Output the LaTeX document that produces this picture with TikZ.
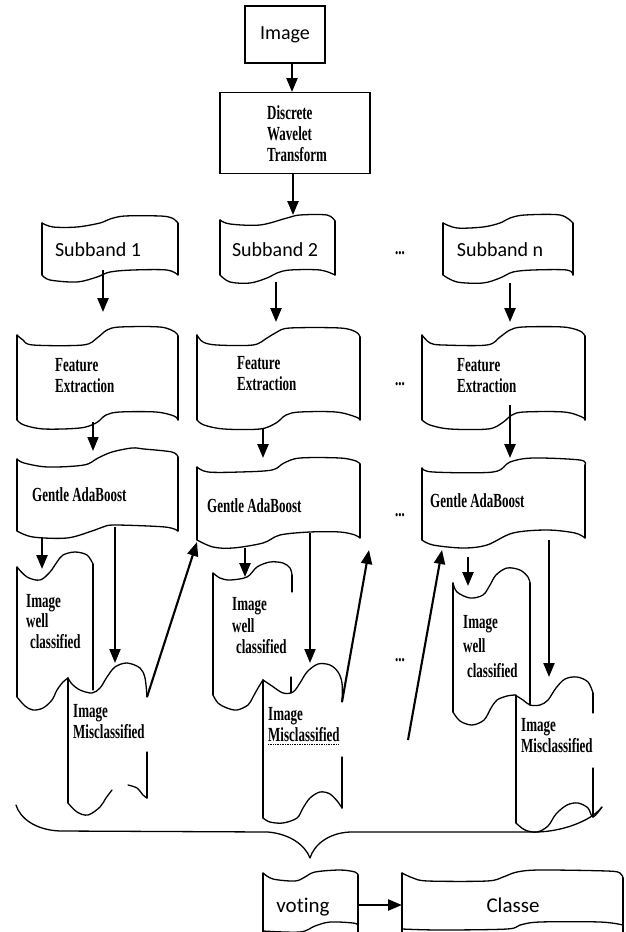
\documentclass[tikz,border=0pt]{standalone}
\usepackage{fontspec}
\usepackage{graphicx}
\newfontfamily\carlito[Ligatures=NoCommon]{Carlito}
\newfontfamily\tnr{Liberation Serif}
\usetikzlibrary{arrows.meta}
\newcommand{\cnd}[2][1]{\scalebox{0.65}[1]{\def\arraystretch{#1}\begin{tabular}{@{}l@{}}#2\end{tabular}}}
\tikzset{
  edge/.style={line width=1.3pt, line join=round, line cap=round},
  arr/.style={line width=2.4pt, -{Triangle[width=11pt,length=14pt]}},
  sans/.style={font=\carlito\fontsize{20}{24}\selectfont, inner sep=0pt},
  serif/.style={font=\tnr\bfseries\fontsize{20}{21}\selectfont, inner sep=0pt, anchor=west},
  tape/.style={edge, smooth, tension=0.55}
}
\begin{document}
\begin{tikzpicture}[x=1pt,y=-1pt]
\useasboundingbox[fill=white] (0,0) rectangle (626,932);

% ---------- top boxes ----------
\node[draw, line width=1.5pt, minimum width=80pt, minimum height=57pt, sans] (img) at (285,34.5) {Image};
\node[draw, line width=1.3pt, minimum width=150pt, minimum height=81pt] (dwt) at (295,133) {};
\node[serif] (dwtt) at (267,136) {\cnd{Discrete\\Wavelet\\Transform}};

% ---------- subbands ----------
\draw[tape] plot coordinates {(42,223)(53,227)(77,227)(100,223)(110,219)(125,216)(160,216)(172,218)(178,223)};
\draw[tape] plot coordinates {(42,275)(50,280)(77,282)(97,277)(110,272)(133,270)(167,270)(178,275)};
\draw[edge] (42,223)--(42,275) (178,223)--(178,275);
\node[sans] (sb1) at (98,250) {Subband 1};

\draw[tape] plot coordinates {(220,220)(230,224)(260,225)(287,218)(300,215)(327,215)(335,221)};
\draw[tape] plot coordinates {(220,275)(230,282)(250,283)(267,278)(277,273)(290,270)(320,270)(335,275)};
\draw[edge] (220,220)--(220,275) (335,221)--(335,275);
\node[sans] (sb2) at (275,250) {Subband 2};

\draw[tape] plot coordinates {(443,223)(457,228)(483,227)(500,223)(510,218)(525,215)(560,215)(573,223)};
\draw[tape] plot coordinates {(443,275)(457,282)(483,283)(500,278)(513,272)(533,270)(567,270)(573,275)};
\draw[edge] (443,223)--(443,275) (573,223)--(573,275);
\node[sans] (sbn) at (500,250) {Subband n};

% ---------- feature extraction ----------
\draw[tape] plot coordinates {(17,335)(23,340)(33,345)(83,345)(97,338)(107,330)(120,327)(160,327)(175,332)(178,336)};
\draw[tape] plot coordinates {(17,420)(24,425)(44,429)(80,428)(96,423)(106,415)(120,412)(156,412)(174,416)(178,420)};
\draw[edge] (17,335)--(17,420) (178,336)--(178,420);
\node[serif] (fe1) at (55,378) {\cnd{Feature\\Extraction}};

\draw[tape] plot coordinates {(197,335)(203,342)(217,345)(253,345)(267,338)(277,332)(290,328)(340,328)(356,332)(360,337)};
\draw[tape] plot coordinates {(197,420)(204,425)(224,429)(260,429)(276,423)(286,415)(300,412)(336,412)(356,417)(360,420)};
\draw[edge] (197,335)--(197,420) (360,337)--(360,420);
\node[serif] (fe2) at (237,376) {\cnd{Feature\\Extraction}};

\draw[tape] plot coordinates {(422,335)(430,343)(443,345)(487,345)(500,337)(510,330)(523,327)(563,327)(580,331)(585,336)};
\draw[tape] plot coordinates {(422,420)(430,425)(450,429)(488,429)(502,423)(512,415)(524,412)(564,412)(582,417)(585,420)};
\draw[edge] (422,335)--(422,420) (585,336)--(585,420);
\node[serif] (fe3) at (457,378) {\cnd{Feature\\Extraction}};

% ---------- gentle adaboost ----------
\draw[tape] plot coordinates {(17,459)(24,463)(48,467)(84,465)(98,458)(112,452)(132,448)(144,449)(172,452)(178,457)};
\draw[tape] plot coordinates {(17,531)(33,537)(67,538)(92,531)(103,527)(115,525)(165,527)(178,531)};
\draw[edge] (17,459)--(17,531) (178,457)--(178,531);
\node[serif] (ga1) at (32,497) {\cnd{Gentle AdaBoost}};

\draw[tape] plot coordinates {(197,467)(208,472)(240,472)(272,470)(284,463)(300,458)(340,458)(356,461)(360,464)};
\draw[tape] plot coordinates {(197,540)(213,547)(233,548)(263,543)(280,535)(310,532)(340,532)(355,535)(360,538)};
\draw[edge] (197,467)--(197,540) (360,464)--(360,538);
\node[serif] (ga2) at (207,508) {\cnd{Gentle AdaBoost}};

\draw[tape] plot coordinates {(422,468)(433,472)(493,472)(510,462)(533,458)(580,460)(585,465)};
\draw[tape] plot coordinates {(422,540)(433,545)(463,548)(487,545)(513,533)(547,530)(575,533)(585,538)};
\draw[edge] (422,468)--(422,540) (585,465)--(585,538);
\node[serif] (ga3) at (430,503) {\cnd{Gentle AdaBoost}};

% ---------- group 1 ----------
\draw[tape] plot coordinates {(17,567)(27,577)(40,580)(50,572)(57,562)(63,555)(75,552)(87,555)(93,564)};
\draw[edge] (17,567)--(17,697) (93,564)--(93,690);
\draw[tape] plot coordinates {(17,697)(25,706)(33,710)(43,708)(52,700)(57,690)(63,682)(68,678)};
\node[serif] (wc1) at (26,624) {\cnd[0.95]{Image\\well\\\hspace*{6pt}classified}};

\draw[tape] plot coordinates {(68,678)(72,684)(80,690)(92,693)(100,688)(107,677)(115,667)(127,663)(140,668)(145,678)(147,697)};
\draw[edge] (68,678)--(68,803) (147,752)--(147,798);
\draw[tape] plot coordinates {(68,803)(77,812)(88,815)(100,807)(106,798)(112,790)};
\draw[tape] plot coordinates {(128,785)(137,788)(143,795)(147,798)};
\node[serif] (mc1) at (73,724) {\cnd{Image\\Misclassified}};

% ---------- group 2 ----------
\draw[tape] plot coordinates {(213,573)(220,578)(230,580)(247,577)(257,567)(270,562)(283,563)(290,568)(292,575)};
\draw[edge] (213,573)--(213,695) (292,575)--(292,592) (291,677)--(291,693);
\draw[tape] plot coordinates {(213,695)(218,703)(227,708)(237,710)(248,705)(253,697)(258,688)(263,680)};
\node[serif] (wc2) at (232,628) {\cnd[1.03]{Image\\well\\\hspace*{6pt}classified}};

\draw[tape] plot coordinates {(263,680)(272,686)(283,693)(293,692)(300,683)(307,672)(318,664)(330,665)(338,672)(342,683)(342,702)};
\draw[edge] (263,680)--(263,818) (342,757)--(342,808);
\draw[tape] plot coordinates {(263,818)(270,822)(283,823)(297,818)(303,808)(310,798)(320,792)(330,794)(338,802)(342,808)};
\node[serif] (mc2) at (268,727) {\cnd{Image\\Misclassified}};
\draw[densely dotted, line width=0.7pt] (268,744) -- (338,744);

% ---------- group 3 ----------
\draw[tape] plot coordinates {(453,583)(457,592)(470,598)(483,595)(490,585)(496,575)(507,568)(520,570)(528,577)(530,583)};
\draw[edge] (453,583)--(453,712) (530,583)--(530,705);
\draw[tape] plot coordinates {(453,712)(460,721)(472,725)(484,720)(491,708)(497,700)(507,696)(515,695)};
\node[serif] (wc3) at (463,648) {\cnd[1.18]{Image\\well\\\hspace*{6pt}classified}};

\draw[tape] plot coordinates {(515,695)(523,700)(530,705)(540,705)(548,700)(556,688)(565,679)(577,677)(588,682)(593,693)};
\draw[edge] (516,695)--(516,823) (593,693)--(593,713) (593,768)--(593,817);
\draw[tape] plot coordinates {(516,823)(525,830)(537,832)(548,826)(556,814)(567,805)(578,803)(588,808)(593,817)(602,807)};
\node[serif] (mc3) at (521,738) {\cnd{Image\\Misclassified}};

% ---------- dots ----------
\node[serif, anchor=center] (d1) at (400,250) {\cnd{...}};
\node[serif, anchor=center] (d2) at (400,381) {\cnd{...}};
\node[serif, anchor=center] (d3) at (400,512) {\cnd{...}};
\node[serif, anchor=center] (d4) at (400,657) {\cnd{...}};

% ---------- brace ----------
\draw[edge] (16,805) .. controls (20,818) and (35,830) .. (60,831) -- (268,832)
  .. controls (290,834) and (305,845) .. (310,858)
  .. controls (314,845) and (328,833) .. (350,832) -- (535,832)
  .. controls (560,832) and (590,822) .. (602,807);

% ---------- voting / classe ----------
\draw[tape] plot coordinates {(263,873)(273,879)(295,881)(305,877)(315,872)(340,870)(355,872)(358,875)};
\draw[tape] plot coordinates {(263,931)(300,932)(315,926)(330,922)(353,923)(358,925)};
\draw[edge] (263,873)--(263,935) (358,875)--(358,935);
\node[sans, font=\carlito\fontsize{21}{24}\selectfont] (vot) at (303,907) {voting};

\draw[tape] plot coordinates {(402,873)(413,878)(428,881)(487,881)(503,877)(517,872)(540,870)(607,871)(620,873)(623,878)};
\draw[tape] plot coordinates {(402,929)(440,930)(507,929)(520,925)(540,922)(600,922)(623,925)};
\draw[edge] (402,873)--(402,935) (623,878)--(623,935);
\node[sans, font=\carlito\fontsize{21}{24}\selectfont] (cls) at (513,905) {Classe};

% ---------- connector end points ----------
\coordinate (img-o) at (292,63);   \coordinate (dwt-i) at (292,92);
\coordinate (dwt-o) at (293,173);  \coordinate (sb2-i) at (293,215);
\coordinate (sb1-o) at (103,270);  \coordinate (fe1-i) at (103,312);
\coordinate (sb2-o) at (276,282);  \coordinate (fe2-i) at (276,322);
\coordinate (sbn-o) at (510,283);  \coordinate (fe3-i) at (510,322);
\coordinate (fe1-o) at (93,422);   \coordinate (ga1-i) at (93,451);
\coordinate (fe2-o) at (263,428);  \coordinate (ga2-i) at (263,458);
\coordinate (fe3-o) at (510,405);  \coordinate (ga3-i) at (510,458);
\coordinate (ga1-w) at (42,537);   \coordinate (wc1-i) at (42,569);
\coordinate (ga1-m) at (115,527);  \coordinate (mc1-i) at (115,663);
\coordinate (mc1-o) at (147,697);  \coordinate (ga2-b) at (197,542);
\coordinate (ga2-w) at (245,548);  \coordinate (wc2-i) at (245,577);
\coordinate (ga2-m) at (310,533);  \coordinate (mc2-i) at (310,663);
\coordinate (mc2-o) at (342,702);  \coordinate (nx-i) at (369,550);
\coordinate (pv-o) at (408,740);   \coordinate (ga3-b) at (442,550);
\coordinate (ga3-w) at (468,557);  \coordinate (wc3-i) at (468,586);
\coordinate (ga3-m) at (549,540);  \coordinate (mc3-i) at (549,677);
\coordinate (vot-o) at (358,905);  \coordinate (cls-i) at (402,905);

% ---------- connectors ----------
\draw[arr] (img-o) -- (dwt-i);
\draw[arr] (dwt-o) -- (sb2-i);
\draw[arr] (sb1-o) -- (fe1-i);
\draw[arr] (sb2-o) -- (fe2-i);
\draw[arr] (sbn-o) -- (fe3-i);
\draw[arr, line width=1.7pt] (fe1-o) -- (ga1-i);
\draw[arr] (fe2-o) -- (ga2-i);
\draw[arr] (fe3-o) -- (ga3-i);
\draw[arr] (ga1-w) -- (wc1-i);
\draw[arr, line width=2.1pt] (ga1-m) -- (mc1-i);
\draw[arr, line width=2.1pt] (mc1-o) -- (ga2-b);
\draw[arr] (ga2-w) -- (wc2-i);
\draw[arr, line width=2.1pt] (ga2-m) -- (mc2-i);
\draw[arr, line width=2.1pt] (mc2-o) -- (nx-i);
\draw[arr, line width=2.1pt] (pv-o) -- (ga3-b);
\draw[arr] (ga3-w) -- (wc3-i);
\draw[arr, line width=2.1pt] (ga3-m) -- (mc3-i);
\draw[arr] (vot-o) -- (cls-i);
\end{tikzpicture}
\end{document}
